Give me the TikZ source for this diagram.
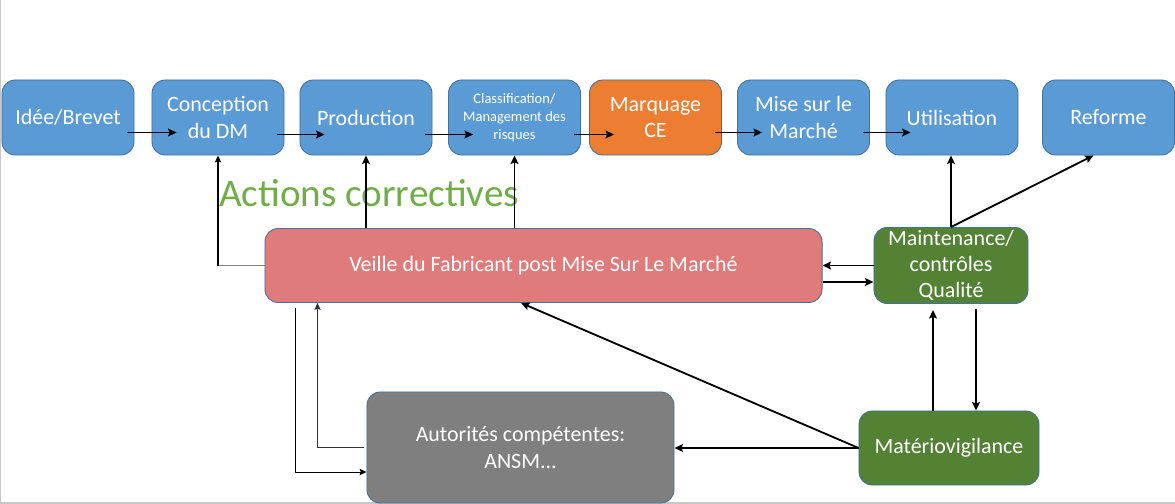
\documentclass[tikz,border=0pt]{standalone}
\usepackage{fontspec}
\setmainfont{Carlito}
\usetikzlibrary{arrows.meta}

\definecolor{stepblue}{HTML}{5B9BD5}
\definecolor{stepedge}{HTML}{41719C}
\definecolor{ceorange}{HTML}{ED7D31}
\definecolor{qualgreen}{HTML}{548235}
\definecolor{veillered}{HTML}{E07B7B}
\definecolor{authgray}{HTML}{7F7F7F}
\definecolor{actgreen}{HTML}{70AD47}

\tikzset{
  box/.style={draw=stepedge, line width=0.6pt, rounded corners=0.33cm, text=white,
    align=center, font=\fontsize{15.6}{18.6}\selectfont, inner sep=2pt},
  stepbox/.style={box, fill=stepblue, minimum width=3.3cm, minimum height=1.875cm},
  arr/.style={-{Stealth[length=6pt, width=5.5pt, inset=1pt]}, line width=1.3pt},
  thinarr/.style={-{Stealth[length=5pt, width=4.5pt, inset=1pt]}, line width=0.7pt}
}

\begin{document}
\begin{tikzpicture}[x=0.025cm, y=-0.025cm]
\useasboundingbox (0,0) rectangle (1175,504);
\draw[black!22, line width=1pt] (0.5,0) -- (0.5,503) -- (1175,503);

% steps of the device life
\node[stepbox] (idee)     at (68,117.5)    {Idée/Brevet};
\node[stepbox] (concept)  at (218,117.5)   {Conception\\du DM};
\node[stepbox] (prod)     at (366,117.5)   {Production};
\node[stepbox, font=\fontsize{10.3}{12.6}\selectfont] (classif) at (514.5,117.5) {Classification/\\Management des\\risques};
\node[stepbox, fill=ceorange] (marq) at (655.5,117.5) {Marquage\\CE};
\node[stepbox] (mise)     at (803.5,117.5) {Mise sur le\\Marché};
\node[stepbox] (util)     at (952,117.5)   {Utilisation};
\node[stepbox] (reforme)  at (1108.5,117.5) {Reforme};

% monitoring
\node[box, fill=veillered, minimum width=13.925cm, minimum height=1.85cm] (veille) at (543.5,265.5) {Veille du Fabricant post Mise Sur Le Marché};
\node[box, fill=qualgreen, minimum width=3.85cm, minimum height=1.875cm] (maint) at (951,265.5) {Maintenance/\\contrôles\\Qualité};
\node[box, fill=qualgreen, minimum width=4.5cm, minimum height=1.85cm] (mat) at (949,448) {Matériovigilance};
\node[box, fill=authgray, minimum width=7.675cm, minimum height=2.775cm] (autor) at (520.5,447.5) {Autorités compétentes:\\ANSM...};

\node[anchor=base west, text=actgreen, font=\fontsize{27.8}{32}\selectfont, inner sep=0pt] (actions) at (219,207) {Actions correctives};

% flow of the steps
\draw[arr] ([shift={(-7,15)}]idee.east) -- ([shift={(25,15)}]concept.west);
\draw[arr] ([shift={(-7,17)}]concept.east) -- ([shift={(25,17)}]prod.west);
\draw[arr] ([shift={(-7,17)}]prod.east) -- ([shift={(25,17)}]classif.west);
\draw[arr] ([shift={(-7,17)}]classif.east) -- ([shift={(25,17)}]marq.west);
\draw[arr] ([shift={(-7,15)}]marq.east) -- ([shift={(25,15)}]mise.west);
\draw[arr] ([shift={(-7,15)}]mise.east) -- ([shift={(25,15)}]util.west);

% corrective actions
\draw[authgray, line width=1pt] (veille.west) -- (veille.west -| concept);
\draw[thinarr, line width=1pt] (veille.west -| concept) -- (concept.south);
\draw[arr] (veille.north -| prod) -- (prod.south);
\draw[arr] (veille.north -| classif) -- (classif.south);

% quality loop
\draw[arr] (maint.west) -- (maint.west -| veille.east);
\draw[arr] ([shift={(0,16.5)}]veille.east) -- ([shift={(0,16.5)}]veille.east -| maint.west);
\draw[arr] (maint.north) -- (maint.north |- util.south);
\draw[arr] (maint.north) -- ([shift={(-15,0)}]reforme.south);
\draw[arr] ([shift={(-16,0)}]mat.north) -- ([shift={(-16,6)}]mat.north |- maint.south);
\draw[arr] ([shift={(27,5)}]mat.north |- maint.south) -- ([shift={(27,0)}]mat.north);
\draw[arr] (mat.west) -- ([shift={(-22.5,0)}]veille.south);
\draw[arr] (mat.west) -- (mat.west -| autor.east);

% authorities
\draw[thinarr, black!80] ([shift={(-3,0)}]autor.west) -| ([shift={(53,0)}]veille.south west);
\draw[thinarr] ([shift={(31,5)}]veille.south west) |- ([shift={(0,24.5)}]autor.west);
\end{tikzpicture}
\end{document}
